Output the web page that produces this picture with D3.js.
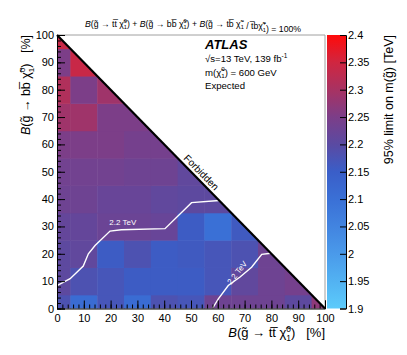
<!DOCTYPE html>
<html>
<head>
<meta charset="utf-8">
<script src="https://cdn.jsdelivr.net/npm/d3@7"></script>
<style>
  body { margin: 0; background: #fff; }
  text { font-family: "Liberation Sans", Arial, Helvetica, sans-serif; }
</style>
</head>
<body>
<div id="chart"></div>
<script>
// Branching ratio bins (%), x: gluino -> tt chi, y: gluino -> bb chi
const ttFrac = [0, 10, 20, 30, 40, 50, 60, 70, 80, 90, 100];
const bbFrac = [0, 10, 20, 30, 40, 50, 60, 70, 80, 90, 100];

// Expected 95% CL limit on m(gluino) [TeV]; row i <-> bbFrac[i], entry j <-> ttFrac[j]
const limitRows = [
  [2.18, 2.11, 2.17, 2.11, 2.18, 2.17, 2.23, 2.23, 2.23, 2.205, 2.27],
  [2.205, 2.18, 2.17, 2.155, 2.155, 2.155, 2.17, 2.21, 2.23, 2.24],
  [2.205, 2.21, 2.155, 2.18, 2.155, 2.16, 2.17, 2.18, 2.23],
  [2.215, 2.215, 2.225, 2.225, 2.22, 2.155, 2.10, 2.16],
  [2.23, 2.23, 2.22, 2.22, 2.21, 2.205, 2.205],
  [2.235, 2.235, 2.235, 2.23, 2.23, 2.21],
  [2.25, 2.25, 2.25, 2.24, 2.24],
  [2.29, 2.29, 2.25, 2.25],
  [2.31, 2.25, 2.29],
  [2.25, 2.34],
  [2.34]
];

// 2.2 TeV iso-limit contours, [tt %, bb %]
const contourLeft = [[0, 8.4], [4.9, 10.9], [9.8, 15.5], [11.7, 20], [14.2, 23], [19.8, 28.3],
  [24, 28.8], [40.3, 29.2], [50.2, 38.7], [60.5, 39.5]];
const contourRight = [[58, 0], [60.2, 3.5], [63.9, 8.4], [68.3, 11.5], [72.6, 15.1], [76.4, 19.8], [79.8, 20.2]];

const axisTicks = [0, 10, 20, 30, 40, 50, 60, 70, 80, 90, 100];
const colorTicks = [1.9, 1.95, 2.0, 2.05, 2.1, 2.15, 2.2, 2.25, 2.3, 2.35, 2.4];

// palette, blue (low) -> purple -> red (high)
const paletteStops = [1.9, 1.95, 2.0, 2.05, 2.1, 2.15, 2.2, 2.25, 2.3, 2.35, 2.4];
const paletteColours = ["#5ccbfb", "#52b2f2", "#4a9aea", "#4284e0", "#3a70d6", "#3a5ec8",
  "#5a4aa2", "#7c3e88", "#a83262", "#d02640", "#ff0a0a"];

const width = 407, height = 355;
const frame = {left: 57, right: 325, top: 35, bottom: 308.5};
const cbar = {left: 327, right: 346};

const svg = d3.select("#chart").append("svg")
    .attr("width", width)
    .attr("height", height);

const x = d3.scaleLinear().domain([0, 100]).range([frame.left, frame.right]);
const y = d3.scaleLinear().domain([0, 100]).range([frame.bottom, frame.top]);
const colour = d3.scaleLinear().domain(paletteStops).range(paletteColours).clamp(true);
const cScale = d3.scaleLinear().domain([1.9, 2.4]).range([frame.bottom, frame.top]);

// Helper to write ROOT-like labels: italic letters, chi with stacked sub/superscripts
function writeLabel(textSel, segs, fs) {
  let carryDy = 0;
  const span = () => {
    const t = textSel.append("tspan");
    if (carryDy) { t.attr("dy", carryDy); carryDy = 0; }
    return t;
  };
  segs.forEach(s => {
    if (typeof s === "string") {
      span().text(s);
    } else if (s.i) {
      span().attr("font-style", "italic").text(s.i);
    } else if (s.chi) {
      span().text("\u03c7\u0303");
      const sup = textSel.append("tspan")
          .attr("font-size", fs * 0.65)
          .attr("dy", -fs * 0.42)
          .text(s.chi[1]);
      const w = sup.node().getComputedTextLength();
      const sub = textSel.append("tspan")
          .attr("font-size", fs * 0.65)
          .attr("dx", -w)
          .attr("dy", fs * 0.72)
          .text(s.chi[0]);
      const ws = sub.node().getComputedTextLength();
      carryDy = -fs * 0.3;
      if (w > ws) {
        textSel.append("tspan").attr("dx", w - ws).attr("dy", carryDy).text("");
        carryDy = 0;
      }
    }
  });
}

const g = "g\u0303", arrow = "\u2192";
const tbar = "t\u0305", bbar = "b\u0305";

// --- heat map cells, clipped to the allowed triangle
svg.append("clipPath").attr("id", "tri")
  .append("path")
    .attr("d", d3.line()([[x(0), y(0)], [x(100), y(0)], [x(0), y(100)]]) + "Z");

const cells = [];
limitRows.forEach((row, i) => row.forEach((v, j) => cells.push({tt: ttFrac[j], bb: bbFrac[i], v: v})));

svg.append("g")
    .attr("clip-path", "url(#tri)")
  .selectAll("rect")
  .data(cells)
  .join("rect")
    .attr("x", d => x(Math.max(0, d.tt - 5)))
    .attr("y", d => y(Math.min(100, d.bb + 5)))
    .attr("width", d => x(Math.min(100, d.tt + 5)) - x(Math.max(0, d.tt - 5)) + 0.5)
    .attr("height", d => y(Math.max(0, d.bb - 5)) - y(Math.min(100, d.bb + 5)) + 0.5)
    .attr("fill", d => colour(d.v));

// --- frame (top and right sides)
svg.append("path")
    .attr("d", `M${frame.left},${frame.top}H${frame.right}V${frame.bottom}`)
    .attr("fill", "none")
    .attr("stroke", "#a0a0a0")
    .attr("stroke-width", 1);

// --- contours
const line = d3.line().x(d => x(d[0])).y(d => y(d[1]));
[contourLeft, contourRight].forEach(c => {
  svg.append("path")
      .attr("d", line(c))
      .attr("fill", "none")
      .attr("stroke", "#fff")
      .attr("stroke-width", 1.4);
});

svg.append("text")
    .attr("x", x(19.5))
    .attr("y", y(30.6))
    .attr("fill", "#fff")
    .style("font-size", "8px")
    .text("2.2 TeV");

svg.append("text")
    .attr("transform", `translate(${x(68)},${y(12.5)}) rotate(-52)`)
    .attr("text-anchor", "middle")
    .attr("fill", "#fff")
    .style("font-size", "8px")
    .text("2.2 TeV");

// --- kinematic boundary
svg.append("line")
    .attr("x1", x(0)).attr("y1", y(100))
    .attr("x2", x(100)).attr("y2", y(0))
    .attr("stroke", "#000")
    .attr("stroke-width", 2.2);

const diagAngle = Math.atan2(y(0) - y(100), x(100) - x(0)) * 180 / Math.PI;
svg.append("text")
    .attr("transform", `translate(${x(52)},${y(48)}) rotate(${diagAngle})`)
    .attr("text-anchor", "middle")
    .attr("dy", -3.5)
    .style("font-size", "10px")
    .text("Forbidden");

// --- axes with ROOT-style inward ticks
function styleAxis(sel) {
  sel.selectAll("text").style("font-size", "11px").attr("fill", "#000");
  sel.selectAll("line").attr("stroke", "#000");
  sel.select(".domain").attr("stroke", "#000");
}

const xAxis = svg.append("g")
    .attr("transform", `translate(0,${frame.bottom})`)
    .call(d3.axisBottom(x).tickValues(axisTicks).tickSize(-8).tickPadding(3).tickFormat(d3.format("d")))
    .call(styleAxis);
xAxis.selectAll("text").attr("dy", "0.95em");

svg.append("g")
    .attr("transform", `translate(0,${frame.bottom})`)
    .call(d3.axisBottom(x).tickValues(d3.range(0, 101, 2)).tickSize(-4).tickFormat(""))
    .call(styleAxis)
    .select(".domain").remove();

svg.append("g")
    .attr("transform", `translate(${frame.left},0)`)
    .call(d3.axisLeft(y).tickValues(axisTicks).tickSize(-8).tickPadding(3).tickFormat(d3.format("d")))
    .call(styleAxis);

svg.append("g")
    .attr("transform", `translate(${frame.left},0)`)
    .call(d3.axisLeft(y).tickValues(d3.range(0, 101, 2)).tickSize(-4).tickFormat(""))
    .call(styleAxis)
    .select(".domain").remove();

// axis titles
const xTitle = svg.append("text")
    .attr("x", frame.right)
    .attr("y", 337)
    .attr("text-anchor", "end")
    .style("font-size", "13px")
    .style("white-space", "pre");
writeLabel(xTitle, [{i: "B"}, `(${g} ${arrow} t${tbar} `, {chi: ["1", "0"]}, ")   [%]"], 13);

const yTitle = svg.append("text")
    .attr("transform", `translate(30,${frame.top}) rotate(-90)`)
    .attr("text-anchor", "end")
    .style("font-size", "12.5px")
    .style("white-space", "pre");
writeLabel(yTitle, [{i: "B"}, `(${g} ${arrow} b${bbar} `, {chi: ["1", "0"]}, ")   [%]"], 12.5);

// --- colour bar
const grad = svg.append("defs").append("linearGradient")
    .attr("id", "cbar")
    .attr("x1", 0).attr("y1", 1).attr("x2", 0).attr("y2", 0);
grad.selectAll("stop")
  .data(paletteStops)
  .join("stop")
    .attr("offset", d => (d - 1.9) / 0.5)
    .attr("stop-color", d => colour(d));

svg.append("rect")
    .attr("x", cbar.left)
    .attr("y", frame.top)
    .attr("width", cbar.right - cbar.left)
    .attr("height", frame.bottom - frame.top)
    .attr("fill", "url(#cbar)");

svg.append("g")
    .attr("transform", `translate(${cbar.right},0)`)
    .call(d3.axisRight(cScale).tickValues(colorTicks).tickSize(-6).tickPadding(2)
      .tickFormat(d => String(+d.toFixed(2))))
    .call(styleAxis);

svg.append("text")
    .attr("transform", `translate(393,${frame.top}) rotate(-90)`)
    .attr("text-anchor", "end")
    .style("font-size", "12.5px")
    .text(`95% limit on m(${g}) [TeV]`);

// --- plot title
const title = svg.append("text")
    .attr("x", 193)
    .attr("y", 26.5)
    .attr("text-anchor", "middle")
    .style("font-size", "8.7px")
    .style("white-space", "pre");
writeLabel(title, [
  {i: "B"}, `(${g} ${arrow} t${tbar} `, {chi: ["1", "0"]}, ") + ",
  {i: "B"}, `(${g} ${arrow} b${bbar} `, {chi: ["1", "0"]}, ") + ",
  {i: "B"}, `(${g} ${arrow} t${bbar} `, {chi: ["1", "\u2212"]}, ` / ${tbar}b`, {chi: ["1", "+"]}, ") = 100%"
], 8.7);

// --- ATLAS label
const lab = svg.append("g").attr("transform", "translate(205,0)");
lab.append("text")
    .attr("y", 48.5)
    .style("font-size", "13px")
    .style("font-weight", "bold")
    .style("font-style", "italic")
    .text("ATLAS");
const l2 = lab.append("text").attr("y", 62).style("font-size", "9.6px");
l2.append("tspan").text("\u221as=13 TeV, 139 fb");
l2.append("tspan").attr("font-size", 6.5).attr("dy", -4).text("-1");
const l3 = lab.append("text").attr("y", 75.5).style("font-size", "9.6px").style("white-space", "pre");
writeLabel(l3, ["m(", {chi: ["1", "0"]}, ") = 600 GeV"], 9.6);
lab.append("text").attr("y", 89).style("font-size", "9.6px").text("Expected");
</script>
</body>
</html>
